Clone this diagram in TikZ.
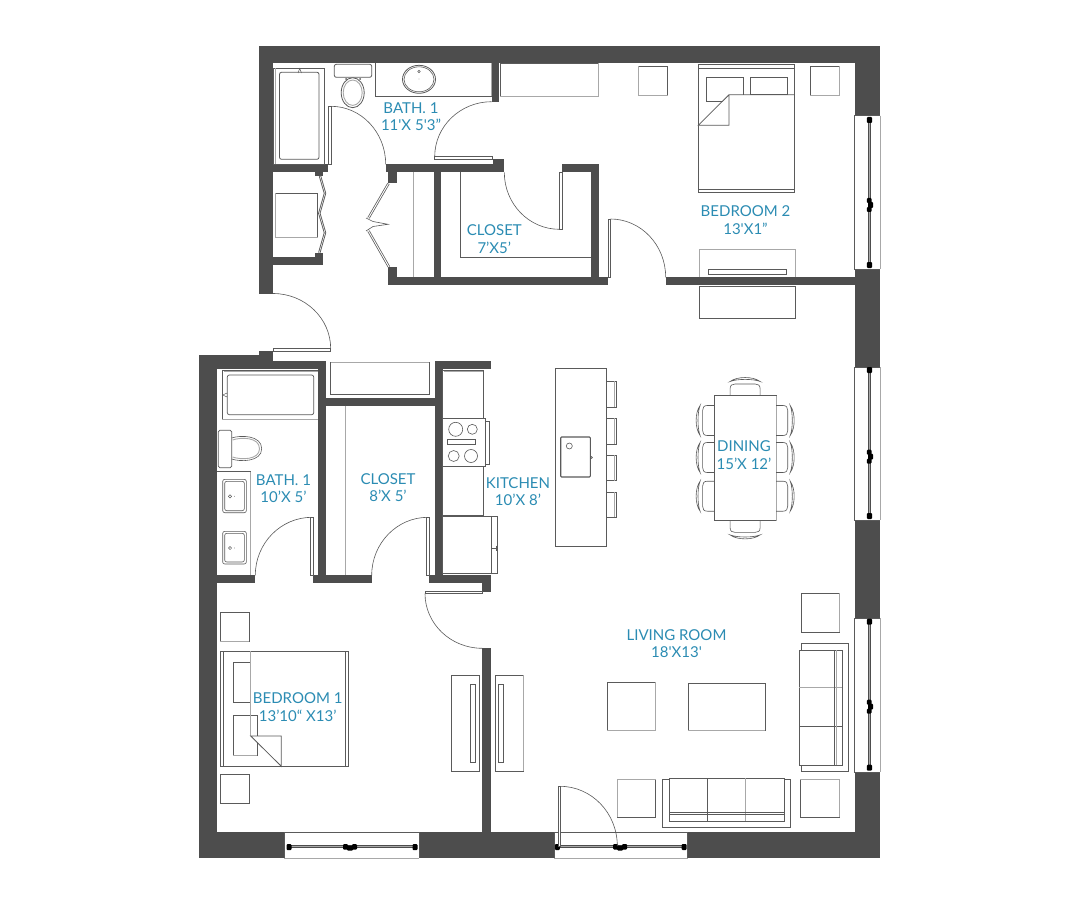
\documentclass[tikz,border=0pt]{standalone}
\usepackage{fontspec}
\usetikzlibrary{calc}
\newfontfamily\lblfont{Lato}
\definecolor{wallc}{HTML}{4D4D4D}
\definecolor{linec}{HTML}{5A5A5A}
\definecolor{lightc}{HTML}{A8A8A8}
\definecolor{lblc}{HTML}{2B8CB3}
\tikzset{
  wall/.style={fill=wallc,draw=none},
  fix/.style={draw=linec,line width=0.8pt,fill=none},
  fixw/.style={draw=linec,line width=0.8pt,fill=white},
  lite/.style={draw=lightc,line width=0.9pt,fill=none},
  leaf/.style={draw=linec,line width=0.6pt,fill=white},
  swing/.style={draw=linec,line width=0.6pt},
  sash/.style={draw=wallc,line width=3pt},
  sashin/.style={draw=lightc,line width=0.7pt},
  blob/.style={fill=black,draw=none,rounded corners=1pt},
  lbl/.style={text=lblc,align=center,inner sep=0pt,font=\lblfont\fontsize{15}{17.6}\selectfont},
  pics/chair/.style={code={
    \draw[fix,line width=0.6pt] (-15,0) -- (-15,-7) .. controls (-15,-10.5) and (-13,-11.7) .. (-10,-11.7) -- (10,-11.7) .. controls (13,-11.7) and (15,-10.5) .. (15,-7) -- (15,0);
    \draw[fix,line width=0.6pt] (-15,-14.2) .. controls (-8,-19.5) and (8,-19.5) .. (15,-14.2) .. controls (8,-17) and (-8,-17) .. (-15,-14.2) -- cycle;
  }}
}
\newcommand{\doorswing}[3]{\draw[swing] #1 .. controls ($#1!0.5523!#2$) and ($#3!0.5523!#2$) .. #3;}
\newcommand{\windowV}[5]{% top bottom y1 ymid y2
  \fill[white] (854.7,#1) rectangle (880,#2);
  \draw[draw=linec,line width=0.6pt] (880,#1) -- (854.7,#1) -- (854.7,#2) -- (880,#2);
  \draw[lite] (880,#1) -- (880,#2);
  \draw[sash] (869.3,#3) -- (869.3,#5);
  \draw[sashin] (869.3,#3) -- (869.3,#5);
  \fill[blob] (866.8,#3-3) rectangle (872,#3+3);
  \fill[blob] (866.8,#5-3) rectangle (872,#5+3);
  \fill[blob] (866.8,#4-7) rectangle (871.5,#4-2);
  \fill[blob] (868,#4-3) rectangle (873,#4+3);
  \fill[blob] (866.8,#4+2) rectangle (871.5,#4+7);
}
\newcommand{\windowH}[5]{% left right x1 xmid x2
  \fill[white] (#1,832) rectangle (#2,858);
  \draw[draw=linec,line width=0.6pt] (#1,858) -- (#1,832) -- (#2,832) -- (#2,858);
  \draw[lite] (#1,858) -- (#2,858);
  \draw[sash] (#3,846.7) -- (#5,846.7);
  \draw[sashin] (#3,846.7) -- (#5,846.7);
  \fill[blob] (#3-2.5,844) rectangle (#3+2.5,850);
  \fill[blob] (#5-2.5,844) rectangle (#5+2.5,850);
  \fill[blob] (#4-7,844) rectangle (#4-2,849.5);
  \fill[blob] (#4-3,845.5) rectangle (#4+3,850.5);
  \fill[blob] (#4+2,844) rectangle (#4+7,849.5);
}
\begin{document}
\begin{tikzpicture}[x=1pt,y=-1pt]
\useasboundingbox (0,0) rectangle (1087,904);
\fill[white] (0,0) rectangle (1087,904);
% ---------- walls
\fill[wall] (259,45.7) rectangle (880,62.7);
\fill[wall] (854.7,45.7) rectangle (880,858);
\fill[wall] (259,45.7) rectangle (273,294);
\fill[wall] (199.3,832) rectangle (880,858);
\fill[wall] (199.3,355) rectangle (216.7,858);
\fill[wall] (199.3,355) rectangle (273,369);
\fill[wall] (259,351) rectangle (273,369);
\fill[wall] (216.7,361) rectangle (326,369);
\fill[wall] (318.3,361) rectangle (326,583);
\fill[wall] (326,398.3) rectangle (435,405.7);
\fill[wall] (435,361) rectangle (442.7,583);
\fill[wall] (435,361) rectangle (490.7,369);
\fill[wall] (216.7,575.3) rectangle (255.3,583);
\fill[wall] (313,575.3) rectangle (371.7,583);
\fill[wall] (429,575.3) rectangle (490.7,583);
\fill[wall] (482.3,575.3) rectangle (490.7,591.7);
\fill[wall] (482.3,648.3) rectangle (490.7,832);
% upper unit
\fill[wall] (273,164.3) rectangle (328,172.3);
\fill[wall] (315,172) rectangle (323,176);
\fill[wall] (273,257) rectangle (323,265);
\fill[wall] (315,252.7) rectangle (323,265);
\fill[wall] (385.7,164.3) rectangle (504.3,172.3);
\fill[wall] (492.7,159) rectangle (504.3,172.3);
\fill[wall] (491.7,62) rectangle (499.3,101.7);
\fill[wall] (388.3,172) rectangle (396.7,183);
\fill[wall] (388.3,266.7) rectangle (396.7,284.5);
\fill[wall] (388.3,277.3) rectangle (608,284.5);
\fill[wall] (433.7,172) rectangle (441,277.5);
\fill[wall] (591.3,164.3) rectangle (599.3,284);
\fill[wall] (562,164.3) rectangle (599.3,172.3);
\fill[wall] (665.7,277.3) rectangle (854.7,284.5);
% ---------- windows
\windowV{115.7}{269}{120}{205}{265}
\windowV{367}{520}{370}{456.7}{516}
\windowV{618}{772}{621.7}{706.7}{767.7}
\windowH{284.3}{419.3}{289}{350}{415}
\windowH{554}{687.7}{557.3}{620}{684}
% ---------- upper bath
\draw[fix] (273.3,68.3) rectangle (324,164.3);
\draw[lite] (275,68.3) -- (275,164.3);
\draw[fix,rounded corners=2pt] (279.5,72.3) rectangle (319,159.3);
\draw[fix,line width=0.5pt] (298,73) -- (299.7,68.5) -- (301.5,73);
\draw[fixw,rounded corners=2pt] (334.3,64.3) rectangle (371.7,77.3);
\draw[fixw] (352.7,92.7) ellipse (11.5 and 15);
\draw[lite] (352.7,92.7) ellipse (9.5 and 12.7);
\fill[linec] (346,79) circle (1) (360,79) circle (1);
\draw[lite] (375.3,63) -- (375.3,96) -- (491.5,96) -- (491.5,63);
\draw[fix,line width=0.6pt] (375.3,63) -- (375.3,96) -- (491.5,96);
\draw[fix] (419,79.3) ellipse (16.5 and 14);
\draw[fix,line width=0.6pt] (419,79.3) ellipse (15 and 12.5);
\draw[fix,line width=0.5pt] (419,71.5) circle (1.3);
\fill[linec] (419,79) circle (0.4);
\draw[fix,line width=0.6pt] (500,63) rectangle (598.3,96);
\draw[lite] (598.3,63) -- (598.3,96) -- (500,96);
% doors upper
\draw[leaf] (328,106.3) rectangle (331,164.3);
\doorswing{(331,106.3)}{(385.7,106.3)}{(385.7,164.3)}
\draw[leaf] (434.7,156.7) rectangle (492.7,159);
\doorswing{(434.7,156.7)}{(434.7,101.7)}{(491.7,101.7)}
\draw[leaf] (559.3,172.3) rectangle (562,229.3);
\doorswing{(504.3,172.3)}{(504.3,229.3)}{(559.3,229.3)}
\draw[leaf] (608.3,219) rectangle (610.5,277.3);
\doorswing{(610.5,219)}{(665.7,219)}{(665.7,277.3)}
\draw[leaf] (273,348.7) rectangle (330.7,351);
\doorswing{(273,293.5)}{(330.7,293.5)}{(330.7,348.7)}
% washer closet
\draw[fix,line width=0.6pt] (275.3,193.3) rectangle (317.7,237.3);
\draw[lite] (275.3,193.3) -- (275.3,237.3) -- (317.7,237.3);
\draw[fix,line width=2.3pt] (320,176) -- (325,193.3) -- (319.3,213.3) -- (325,232.7) -- (319.3,252.7);
\draw[white,line width=0.5pt] (320,176) -- (325,193.3) -- (319.3,213.3) -- (325,232.7) -- (319.3,252.7);
% closet double door
\draw[fix,line width=2.4pt] (388.5,183.5) -- (368.5,218);
\draw[white,line width=0.9pt] (388.5,183.5) -- (368.5,218);
\draw[fix,line width=2.4pt] (389,267) -- (368.5,231);
\draw[white,line width=0.9pt] (389,267) -- (368.5,231);
\draw[fix,line width=0.6pt] (366,218) -- (373,221.5) -- (388,224.3) -- (373,226.5) -- (366,231);
% closet shelves
\draw[lite] (413.3,172.3) -- (413.3,277.3);
\draw[fix,line width=0.6pt] (460.3,172.3) -- (460.3,257.3) -- (591.3,257.3);
% ---------- bedroom 2
\draw[fix,line width=0.7pt] (698.3,64.3) rectangle (794.7,192.7);
\draw[fix,line width=0.6pt] (698.3,68) -- (794.7,68);
\draw[fix,line width=0.6pt] (698.3,189.3) -- (794.7,189.3);
\draw[fix] (706.7,77.3) rectangle (743.7,101.7);
\draw[fix] (750.3,77.3) rectangle (787.7,94.7);
\fill[white] (729,94.7) -- (794.4,94.7) -- (794.4,125.3) -- (729,125.3) -- cycle;
\fill[white] (729,94.7) -- (729,125.3) -- (698.6,125.3) -- cycle;
\draw[fix] (794.7,94.7) -- (729,94.7) -- (729,125.3) -- (698.3,125.3) -- (729,94.7);
\draw[fix,line width=0.7pt] (638.7,66.3) rectangle (667.7,95);
\draw[lite] (638.7,66.3) -- (638.7,95) -- (667.7,95);
\draw[fix,line width=0.7pt] (810,66.3) rectangle (839.7,95);
\draw[lite] (810,95) -- (839.7,95) -- (839.7,66.3);
\draw[lite] (699.3,277.3) -- (699.3,249.3) -- (795.7,249.3) -- (795.7,277.3);
\draw[fix,line width=0.6pt] (708.3,269.3) rectangle (786.7,274.7);
\draw[fix,line width=0.7pt] (699.3,286.3) rectangle (795.7,318.3);
% ---------- lower bath
\draw[lite] (330.3,362) rectangle (429.3,394.3);
\draw[fix,line width=0.6pt] (330.3,394.3) -- (330.3,362);
\draw[fix,line width=0.6pt] (330.3,394.3) -- (429.3,394.3) -- (429.3,362);
\draw[fix,line width=0.6pt] (222.3,419.3) -- (222.3,370) -- (318.3,370);
\draw[lite] (222.3,419.3) -- (318.3,419.3);
\draw[lite] (224,371.5) -- (318.3,371.5);
\draw[fix,rounded corners=2pt,line width=0.7pt] (227.3,375) rectangle (313.7,414.7);
\draw[fix,line width=0.5pt] (227,393) -- (222.8,395) -- (227,397);
\draw[fixw,rounded corners=1.5pt] (218.3,430.3) rectangle (231.7,467.7);
\draw[fix,line width=0.6pt] (231.7,438) .. controls (240,435) and (261.7,435) .. (261.7,448.7) .. controls (261.7,462) and (240,462) .. (231.7,459);
\draw[lite] (232.5,440) .. controls (241,437) and (259.5,437) .. (259.5,448.7) .. controls (259.5,460) and (241,460) .. (232.5,457);
\draw[fix,line width=0.6pt] (216.7,471.7) -- (250,471.7) -- (250,575.3);
\draw[lite] (250,471.7) -- (250,575.3);
\foreach \ya/\yb/\yc in {479.3/512.7/496.3,531.3/564/548}{
  \draw[fix,rounded corners=2pt,line width=0.6pt] (222.7,\ya) rectangle (246.3,\yb);
  \draw[fix,rounded corners=2pt,line width=0.6pt] (224.7,\ya+2) rectangle (244.3,\yb-2);
  \draw[fix,line width=0.5pt] (230,\yc) circle (1.6);
  \fill[linec] (234.5,\yc) circle (0.4);
}
\draw[leaf] (310.7,517.3) rectangle (313,575.3);
\doorswing{(255.3,575.3)}{(255.3,517.3)}{(312,517.3)}
\draw[leaf] (426.7,517.3) rectangle (429,575.3);
\doorswing{(371.7,575.3)}{(371.7,517.3)}{(428,517.3)}
\draw[lite] (345,405.7) -- (345,575.3);
% ---------- kitchen
\draw[fix,line width=0.7pt] (442.7,370) rectangle (483.3,418.3);
\draw[lite] (444,371.5) -- (483.3,371.5);
\draw[fixw,line width=0.7pt] (442.7,418.3) rectangle (485.7,466.7);
\draw[fix,line width=0.6pt] (485.7,421.7) -- (489.3,421.7) -- (489.3,464) -- (485.7,464);
\draw[fix,line width=0.6pt] (455.7,429.3) circle (7);
\draw[fix,line width=0.6pt] (472.3,429.3) circle (5);
\draw[fix,line width=0.6pt] (453.7,456) circle (5.5);
\draw[fix,line width=0.6pt] (471,456) circle (6.5);
\draw[fix,line width=0.6pt] (447.7,439.3) rectangle (475.7,444.3);
\draw[fix,line width=0.7pt] (442.7,466.7) rectangle (483.3,515);
\draw[fix,line width=0.7pt] (442.7,516.7) rectangle (491,573.3);
\draw[fix,line width=0.6pt] (491,516.7) -- (497.7,516.7) -- (497.7,573.3) -- (491,573.3);
\draw[fix,line width=0.7pt] (491,548) -- (497.7,548);
\draw[fix,line width=0.7pt] (496.5,545.5) -- (496.5,551);
% ---------- bedroom 1
\draw[leaf] (425,591) rectangle (482.3,593.5);
\doorswing{(425,593.5)}{(425,648.3)}{(482.3,648.3)}
\draw[fix,line width=0.7pt] (220.3,612.3) rectangle (249.3,641);
\draw[lite] (220.3,641) -- (249.3,641);
\draw[fix,line width=0.7pt] (220.3,774.3) rectangle (249.3,803.3);
\draw[fix,line width=0.7pt] (220.3,651.3) rectangle (348.3,766.3);
\draw[fix,line width=0.6pt] (223.7,651.3) -- (223.7,766.3);
\draw[fix,line width=0.6pt] (345.3,651.3) -- (345.3,766.3);
\draw[fix,line width=0.7pt] (233.3,662) rectangle (250.7,702.3);
\draw[fix,line width=0.7pt] (233.3,715.3) rectangle (257.3,755);
\draw[lite] (233.3,755) -- (257.3,755);
\fill[white] (250.7,736) -- (281.3,736) -- (281.3,766) -- cycle;
\draw[lite] (250.7,651.3) -- (250.7,736);
\draw[fix] (250.7,736) -- (281.3,736) -- (281.3,766.3) -- cycle;
\draw[fix,line width=0.7pt] (451.3,675.3) rectangle (479,771.3);
\draw[fix,line width=0.6pt] (470.3,684.3) rectangle (475.7,762.3);
\draw[fix,line width=0.7pt] (495.3,675.3) rectangle (523,771.3);
\draw[lite] (523,675.3) -- (523,771.3);
\draw[fix,line width=0.6pt] (498,684.3) rectangle (503.3,762.3);
% ---------- island
\draw[fix,line width=0.7pt] (555.3,368.7) rectangle (606.3,546.3);
\foreach \ya/\yb in {381.3/407.3,418.3/444.3,455.3/480.7,492/517.3}{
  \draw[fix,line width=0.6pt] (606.3,\ya) -- (616.7,\ya) -- (616.7,\yb) -- (606.3,\yb);
  \draw[lite] (614.7,\ya) -- (614.7,\yb);
}
\draw[fix,rounded corners=1pt,line width=1.1pt] (560.7,437) rectangle (590.3,477);
\draw[fix,line width=0.6pt] (569.3,446) circle (3);
\draw[fix,line width=0.5pt] (591.5,457.5) circle (1);
% ---------- dining
\draw[fix,line width=0.7pt] (714.3,395.7) rectangle (776,520.7);
\draw[lite] (776,395.7) -- (776,520.7);
\pic at (745.1,395.7) {chair};
\pic[yscale=-1] at (745.1,520.7) {chair};
\foreach \yy in {420.5,457.5,496.2}{
  \pic[rotate=90] at (714.3,\yy) {chair};
  \pic[rotate=-90] at (776,\yy) {chair};
}
% ---------- living
\draw[fix,line width=0.7pt] (607.3,682.3) rectangle (655,730);
\draw[lite] (655,682.3) -- (655,730) -- (607.3,730);
\draw[fix,line width=0.7pt] (688.3,683.3) rectangle (765.3,730.7);
\draw[lite] (688.3,730.7) -- (765.3,730.7);
\draw[fix,line width=0.7pt] (801.3,593.3) rectangle (839.3,632.3);
\draw[lite] (839.3,593.3) -- (839.3,632.3);
\draw[fix,line width=0.7pt] (801,643.3) rectangle (848.3,771.7);
\draw[fixw,line width=0.7pt] (799.3,650.3) rectangle (842.3,765.3);
\draw[lite] (799.3,687.3) -- (842.3,687.3);
\draw[fix,line width=0.6pt] (799.3,726.3) -- (842.3,726.3);
\draw[fix,line width=0.6pt] (834.3,650.3) -- (834.3,765.3);
\draw[lite] (836.7,650.3) -- (836.7,765.3);
\draw[fix,line width=0.7pt] (662.3,779.7) rectangle (790.7,827.3);
\draw[fixw,line width=0.7pt] (669,778.3) rectangle (784,821);
\draw[fix,line width=0.6pt] (707.3,778.3) -- (707.3,821);
\draw[lite] (745.7,778.3) -- (745.7,821);
\draw[fix,line width=0.6pt] (669,812) -- (784,812);
\draw[fix,line width=0.6pt] (669,814.3) -- (784,814.3);
\draw[fix,line width=0.7pt] (617.7,779.7) rectangle (655.7,817.3);
\draw[lite] (617.7,817.3) -- (617.7,779.7) -- (655.7,779.7);
\draw[fix,line width=0.7pt] (800.3,779.7) rectangle (839,817.3);
\draw[lite] (800.3,779.7) -- (839,779.7) -- (839,817.3);
\draw[leaf] (558.3,786.3) rectangle (560.7,846.7);
\doorswing{(560,786.3)}{(617.3,786.3)}{(617.3,846)}
% ---------- labels
\node[lbl] (lbath2) at (411,116.5) {BATH. 1\\11'X 5'3”};
\node[lbl] (lbed2) at (745.5,220.3) {BEDROOM 2\\13'X1”};
\node[lbl] (lclos2) at (494.3,239) {CLOSET\\7’X5’};
\node[lbl] (lbath1) at (283.5,488.5) {BATH. 1\\10’X 5’};
\node[lbl] (lclos1) at (388,487.5) {CLOSET\\8’X 5’};
\node[lbl] (lkit) at (518,491.5) {KITCHEN\\10’X 8’};
\node[lbl] (ldin) at (744,455) {DINING\\15’X 12’};
\node[lbl] (lliv) at (676.5,643.5) {LIVING ROOM\\18'X13'};
\node[lbl] (lbed1) at (297.7,707) {BEDROOM 1\\13’10“ X13’};
\end{tikzpicture}
\end{document}
